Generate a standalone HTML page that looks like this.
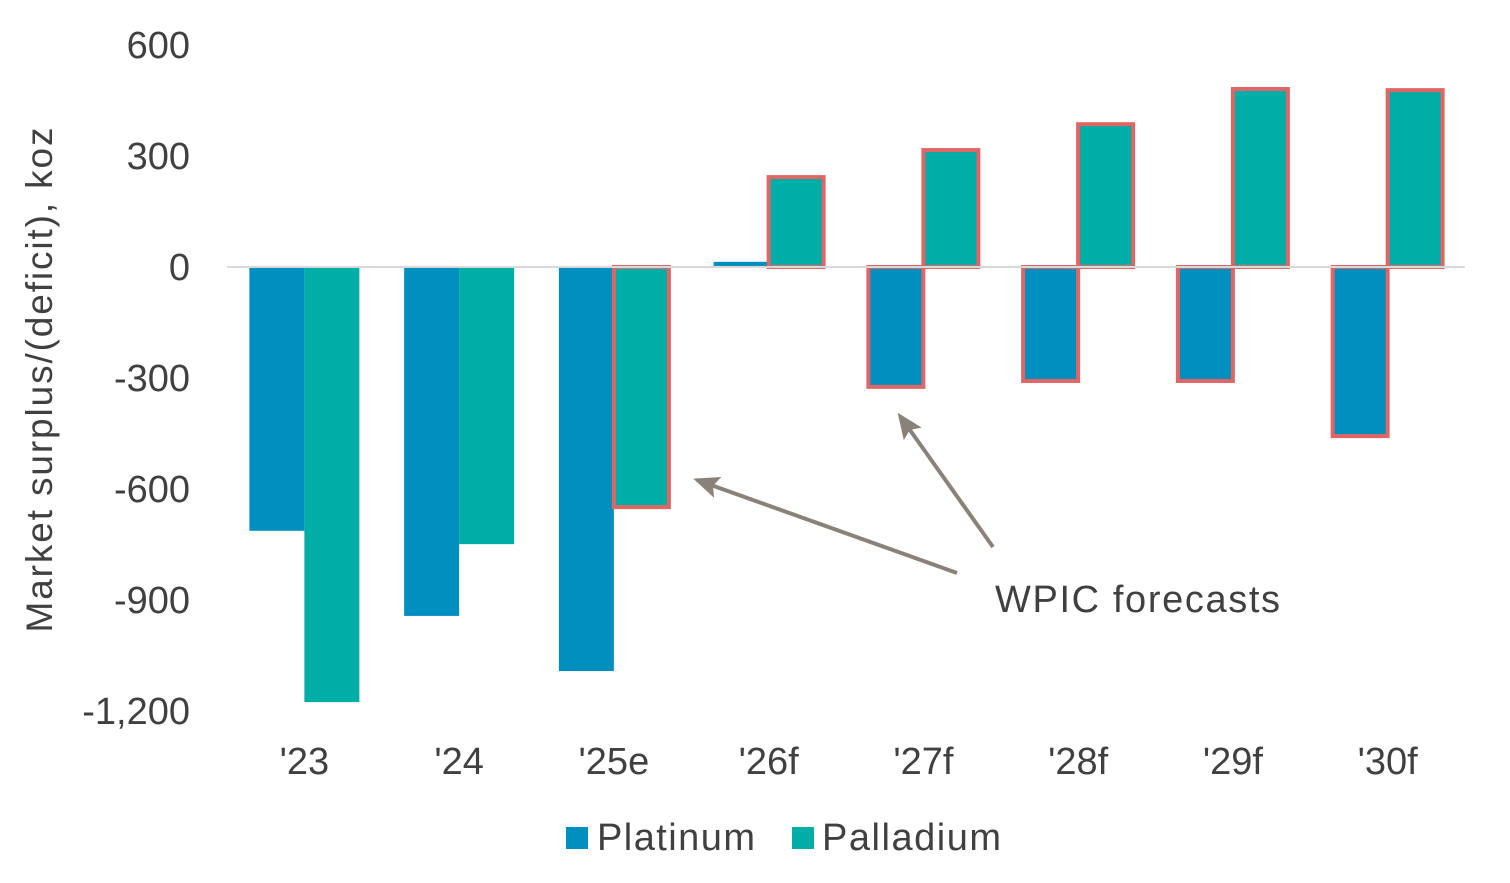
<!DOCTYPE html>
<html><head><meta charset="utf-8"><style>
body{margin:0;background:#fff}
svg{display:block;font-family:"Liberation Sans",Arial,sans-serif}
</style></head><body>
<svg id="c" width="1510" height="883">
<defs><marker id="ah" markerWidth="26" markerHeight="22" refX="22" refY="11" orient="auto" markerUnits="userSpaceOnUse" viewBox="0 0 26 22"><path d="M0,0 L26,11 L0,22 L5,11 Z" fill="#8a8279"/></marker></defs>
<text transform="translate(52,380) rotate(-90)" text-anchor="middle" font-size="37" textLength="505" fill="#404040">Market surplus/(deficit), koz</text>
<g id="bars"></g>
<line x1="227" x2="1465" y1="267" y2="267" stroke="#d9d9d9" stroke-width="2"/>
<g id="ticks"></g>
<line x1="957" y1="573" x2="697" y2="480" stroke="#8a8279" stroke-width="4" marker-end="url(#ah)"/>
<line x1="993" y1="547" x2="900" y2="416" stroke="#8a8279" stroke-width="4" marker-end="url(#ah)"/>
<text x="995" y="612" font-size="38" textLength="285" fill="#404040">WPIC forecasts</text>
<rect x="566" y="827" width="22" height="22" fill="#008fbe"/>
<text x="597" y="850" font-size="38" textLength="158" fill="#404040">Platinum</text>
<rect x="792" y="827" width="22" height="22" fill="#00aea8"/>
<text x="822" y="850" font-size="38" textLength="179" fill="#404040">Palladium</text>
</svg>
<script>
const categories=["'23","'24","'25e","'26f","'27f","'28f","'29f","'30f"];
const platinum=[-713,-943,-1092,14,-324,-308,-308,-457];
const palladium=[-1176,-749,-649,243,316,386,481,478];
const platOutlined=[0,0,0,0,1,1,1,1];
const pallOutlined=[0,0,1,1,1,1,1,1];
const yTicks=[600,300,0,-300,-600,-900,-1200];
const yTickLabels=["600","300","0","-300","-600","-900","-1,200"];
const NS="http://www.w3.org/2000/svg";
const y=v=>267-v*0.37;
const x0=227,step=154.75,bw=55;
const bars=document.getElementById('bars'),ticks=document.getElementById('ticks');
function mk(t,a,p){const e=document.createElementNS(NS,t);for(const k in a)e.setAttribute(k,a[k]);p.appendChild(e);return e;}
yTicks.forEach((v,i)=>{const t=mk('text',{x:190,y:y(v)+13,'text-anchor':'end','font-size':38,fill:'#404040'},ticks);t.textContent=yTickLabels[i];

});
categories.forEach((c,i)=>{const cx=x0+step*(i+0.5);
const t=mk('text',{x:cx,y:774,'text-anchor':'middle','font-size':38,fill:'#404040'},ticks);t.textContent=c;


[[platinum,platOutlined,'#008fbe',cx-bw,'platinum'],[palladium,pallOutlined,'#00aea8',cx,'palladium']].forEach(([s,o,col,bx,nm])=>{
const v=s[i];const top=Math.min(y(v),y(0)),h=Math.abs(y(v)-y(0));
const r=mk('rect',{x:bx,y:top,width:bw,height:h,fill:col},bars);
if(o[i]){r.setAttribute('stroke','#e06666');r.setAttribute('stroke-width','4');}

});});
</script>
</body></html>
